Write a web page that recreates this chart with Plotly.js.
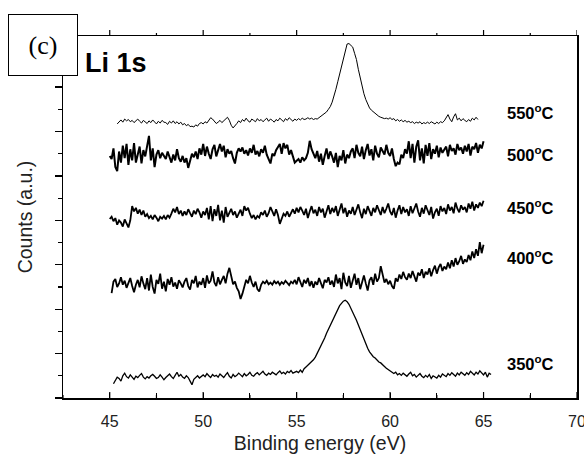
<!DOCTYPE html>
<html>
<head>
<meta charset="utf-8">
<script src="https://cdn.plot.ly/plotly-3.0.1.min.js"></script>
<style>html,body{margin:0;padding:0;background:#fff;}#chart{width:584px;height:454px;}</style>
</head>
<body>
<div id="chart"></div>
<script>
// Binding energy grid (eV), 45.0 ... 65.4
const energy = [
  45.0,45.1,45.2,45.3,45.4,45.5,45.6,45.7,45.8,45.9,
  46.0,46.1,46.2,46.3,46.4,46.5,46.6,46.7,46.8,46.9,
  47.0,47.1,47.2,47.3,47.4,47.5,47.6,47.7,47.8,47.9,
  48.0,48.1,48.2,48.3,48.4,48.5,48.6,48.7,48.8,48.9,
  49.0,49.1,49.2,49.3,49.4,49.5,49.6,49.7,49.8,49.9,
  50.0,50.1,50.2,50.3,50.4,50.5,50.6,50.7,50.8,50.9,
  51.0,51.1,51.2,51.3,51.4,51.5,51.6,51.7,51.8,51.9,
  52.0,52.1,52.2,52.3,52.4,52.5,52.6,52.7,52.8,52.9,
  53.0,53.1,53.2,53.3,53.4,53.5,53.6,53.7,53.8,53.9,
  54.0,54.1,54.2,54.3,54.4,54.5,54.6,54.7,54.8,54.9,
  55.0,55.1,55.2,55.3,55.4,55.5,55.6,55.7,55.8,55.9,
  56.0,56.1,56.2,56.3,56.4,56.5,56.6,56.7,56.8,56.9,
  57.0,57.1,57.2,57.3,57.4,57.5,57.6,57.7,57.8,57.9,
  58.0,58.1,58.2,58.3,58.4,58.5,58.6,58.7,58.8,58.9,
  59.0,59.1,59.2,59.3,59.4,59.5,59.6,59.7,59.8,59.9,
  60.0,60.1,60.2,60.3,60.4,60.5,60.6,60.7,60.8,60.9,
  61.0,61.1,61.2,61.3,61.4,61.5,61.6,61.7,61.8,61.9,
  62.0,62.1,62.2,62.3,62.4,62.5,62.6,62.7,62.8,62.9,
  63.0,63.1,63.2,63.3,63.4,63.5,63.6,63.7,63.8,63.9,
  64.0,64.1,64.2,64.3,64.4,64.5,64.6,64.7,64.8,64.9,
  65.0,65.1,65.2,65.3,65.4];

const counts350 = [
  null,null,0.32,0.40,0.47,0.44,0.38,0.50,0.56,0.48,
  0.45,0.52,0.47,0.42,0.49,0.46,0.51,0.55,0.47,0.43,
  0.48,0.45,0.50,0.53,0.49,0.44,0.46,0.52,0.47,0.41,
  0.46,0.50,0.54,0.48,0.44,0.51,0.58,0.49,0.53,0.47,
  0.44,0.50,0.46,0.38,0.30,0.42,0.47,0.50,0.45,0.49,
  0.52,0.48,0.55,0.50,0.46,0.53,0.49,0.51,0.47,0.54,
  0.50,0.46,0.52,0.57,0.49,0.45,0.53,0.48,0.51,0.56,
  0.52,0.48,0.55,0.50,0.53,0.58,0.51,0.49,0.54,0.57,
  0.52,0.55,0.60,0.54,0.51,0.56,0.53,0.58,0.55,0.52,
  0.57,0.61,0.55,0.58,0.54,0.60,0.57,0.62,0.56,0.59,
  0.60,0.57,0.63,0.58,0.66,0.70,0.74,0.78,0.81,0.86,
  0.92,1.00,1.08,1.16,1.24,1.35,1.46,1.55,1.64,1.74,
  1.84,1.93,2.02,2.08,2.13,2.18,2.20,2.17,2.11,2.03,
  1.93,1.84,1.75,1.64,1.53,1.41,1.30,1.21,1.12,1.04,
  0.97,0.93,0.90,0.85,0.81,0.79,0.76,0.71,0.67,0.64,
  0.61,0.57,0.55,0.58,0.52,0.55,0.51,0.56,0.53,0.49,
  0.54,0.58,0.50,0.53,0.47,0.52,0.55,0.49,0.46,0.51,
  0.47,0.53,0.44,0.50,0.48,0.45,0.51,0.47,0.54,0.50,
  0.48,0.55,0.51,0.57,0.53,0.49,0.56,0.52,0.58,0.54,
  0.51,0.57,0.53,0.60,0.55,0.52,0.58,0.54,0.61,0.56,
  0.52,0.58,0.47,0.56,0.53];

const counts400 = [
  null,2.36,2.62,2.68,2.50,2.58,2.72,2.55,2.64,2.48,
  2.60,2.70,2.52,2.38,2.55,2.66,2.49,2.74,2.58,2.45,
  2.70,2.42,2.78,2.50,2.35,2.66,2.57,2.80,2.46,2.62,
  2.40,2.68,2.55,2.72,2.51,2.60,2.46,2.65,2.58,2.49,
  2.62,2.70,2.52,2.44,2.66,2.58,2.75,2.49,2.62,2.55,
  2.70,2.48,2.76,2.58,2.64,2.85,2.60,2.52,2.72,2.56,
  2.66,2.75,2.58,2.80,2.93,2.70,2.56,2.62,2.48,2.40,
  2.23,2.35,2.52,2.66,2.58,2.75,2.60,2.50,2.62,2.45,
  2.40,2.55,2.62,2.58,2.64,2.56,2.60,2.55,2.63,2.58,
  2.62,2.55,2.61,2.57,2.64,2.59,2.54,2.62,2.58,2.66,
  2.56,2.72,2.60,2.50,2.66,2.58,2.70,2.52,2.63,2.48,
  2.62,2.55,2.70,2.58,2.47,2.66,2.60,2.72,2.55,2.64,
  2.50,2.78,2.58,2.70,2.45,2.82,2.60,2.52,2.75,2.48,
  2.66,2.80,2.55,2.70,2.45,2.62,2.76,2.58,2.42,2.65,
  2.72,2.55,2.80,2.62,2.70,2.97,2.74,2.60,2.68,2.56,
  2.64,2.52,2.46,2.70,2.62,2.78,2.68,2.84,2.72,2.66,
  2.80,2.70,2.86,2.74,2.62,2.82,2.76,2.90,2.70,2.84,
  2.78,2.92,2.74,2.88,2.98,2.80,2.94,3.02,2.86,2.96,
  2.90,3.05,2.92,3.10,2.96,3.15,3.00,3.08,3.20,3.02,
  3.12,3.06,3.22,3.10,3.30,3.15,3.35,3.20,3.51,3.26,
  3.45,null,null,null,null];

const counts450 = [
  4.03,4.08,3.98,4.05,3.90,4.00,3.95,3.86,4.02,3.92,
  3.84,4.00,4.32,4.20,4.28,4.15,4.24,4.12,4.22,4.08,
  4.14,4.05,4.10,4.02,4.12,4.06,3.98,4.08,4.04,4.10,
  4.02,4.12,4.06,4.15,4.26,4.18,4.30,4.14,4.22,4.10,
  4.20,4.12,4.25,4.16,4.08,4.22,4.14,4.26,4.18,4.06,
  4.20,4.12,4.28,4.02,4.32,3.98,4.25,4.10,4.35,4.00,
  4.22,3.95,4.30,4.08,4.18,4.26,4.12,4.20,4.06,4.16,
  4.24,4.10,4.32,4.22,4.28,4.15,4.05,4.12,4.02,4.10,
  4.06,4.18,4.12,4.22,4.08,4.16,4.30,4.20,4.10,4.25,
  4.12,3.92,4.05,4.15,4.10,4.20,4.08,4.18,4.25,4.15,
  4.28,4.18,4.30,4.22,4.12,4.26,4.05,4.20,4.32,4.16,
  4.24,4.10,4.30,4.18,4.26,4.06,4.22,4.34,4.14,4.28,
  4.18,4.32,4.10,4.25,4.38,4.16,4.28,4.08,4.22,4.15,
  4.30,4.12,4.24,4.36,4.18,4.05,4.26,4.14,4.32,4.20,
  4.10,4.28,4.18,4.34,4.22,4.12,4.30,4.16,4.26,4.38,
  4.20,4.12,4.28,4.06,4.22,4.34,4.14,4.30,4.18,4.25,
  4.10,4.32,4.16,4.26,4.38,4.20,4.08,4.28,4.15,4.34,
  4.22,4.12,4.30,4.04,4.18,4.26,4.10,4.32,4.20,4.28,
  4.14,4.36,4.22,4.30,4.16,4.40,4.26,4.18,4.34,4.24,
  4.30,4.18,4.38,4.26,4.42,4.22,4.36,4.28,4.40,4.32,
  4.44,null,null,null,null];

const counts500 = [
  5.45,5.38,5.62,5.20,5.11,5.55,5.30,5.68,5.40,5.72,
  5.25,5.60,5.35,5.74,5.30,5.52,5.66,5.28,5.58,5.44,
  5.70,5.90,5.35,5.62,5.20,5.48,5.58,5.40,5.52,5.46,
  5.38,5.55,5.42,5.30,5.48,5.35,5.60,5.40,5.32,5.45,
  5.30,5.40,5.18,5.36,5.50,5.42,5.55,5.38,5.62,5.48,
  5.72,5.45,5.66,5.50,5.38,5.60,5.70,5.44,5.58,5.72,
  5.55,5.68,5.42,5.60,5.50,5.56,5.40,5.28,5.52,5.62,
  5.55,5.64,5.50,5.58,5.46,5.62,5.52,5.70,5.48,5.56,
  5.44,5.60,5.52,5.68,5.48,5.36,5.28,5.50,5.45,5.58,
  5.66,5.72,5.50,5.74,5.62,5.70,5.48,5.58,5.44,5.30,
  5.34,5.38,5.30,5.42,5.35,5.40,5.52,5.79,5.60,5.48,
  5.40,5.56,5.32,5.50,5.25,5.45,5.62,5.38,5.55,5.44,
  5.30,5.52,5.20,5.45,5.35,5.58,5.28,5.48,5.40,5.55,
  5.62,5.40,5.70,5.52,5.44,5.66,5.38,5.58,5.72,5.46,
  5.60,5.35,5.68,5.50,5.42,5.64,5.56,5.48,5.70,5.52,
  5.45,5.62,5.38,5.22,5.30,5.26,5.48,5.40,5.60,5.50,
  5.78,5.40,5.72,5.30,5.66,5.80,5.35,5.62,5.28,5.70,
  5.45,5.74,5.38,5.60,5.50,5.68,5.42,5.64,5.52,5.58,
  5.66,5.44,5.70,5.56,5.62,5.48,5.72,5.58,5.64,5.50,
  5.68,5.55,5.72,5.46,5.66,5.60,5.74,5.52,5.70,5.62,
  5.78,null,null,null,null];

const counts550 = [
  null,null,null,null,6.17,6.22,6.26,6.21,6.28,6.24,
  6.27,6.22,6.25,6.20,6.24,6.28,6.23,6.19,6.25,6.21,
  6.18,6.24,6.20,6.26,6.22,6.17,6.23,6.19,6.25,6.21,
  6.20,6.16,6.23,6.19,6.24,6.18,6.22,6.17,6.21,6.15,
  6.18,6.13,6.16,6.11,6.12,6.10,6.15,6.12,6.18,6.20,
  6.17,6.22,6.19,6.26,6.31,6.28,6.22,6.18,6.21,6.25,
  6.20,6.24,6.29,6.32,6.25,6.14,6.08,6.12,6.18,6.24,
  6.20,6.27,6.23,6.30,6.24,6.21,6.28,6.25,6.22,6.29,
  6.24,6.27,6.22,6.26,6.30,6.23,6.28,6.25,6.21,6.27,
  6.24,6.30,6.26,6.22,6.29,6.25,6.31,6.27,6.23,6.28,
  6.25,6.29,6.26,6.30,6.27,6.28,6.31,6.28,6.30,6.27,
  6.29,6.28,6.31,6.33,6.36,6.40,6.44,6.50,6.56,6.66,
  6.78,6.95,7.12,7.30,7.50,7.68,7.85,7.97,7.98,7.94,
  7.90,7.76,7.62,7.40,7.20,7.02,6.85,6.72,6.60,6.53,
  6.48,6.44,6.40,6.37,6.34,6.32,6.31,6.29,6.30,6.28,
  6.31,6.27,6.29,6.24,6.27,6.23,6.26,6.22,6.25,6.21,
  6.23,6.20,6.22,6.18,6.21,6.19,6.22,6.17,6.20,6.18,
  6.21,6.18,6.22,6.19,6.17,6.21,6.18,6.22,6.20,6.24,
  6.30,6.38,6.28,6.22,6.33,6.40,6.26,6.30,6.24,6.29,
  6.25,6.22,6.27,6.23,6.30,6.26,6.32,6.27,null,null,
  null,null,null,null,null];

const seriesLabels = ['550<sup>o</sup>C','500<sup>o</sup>C','450<sup>o</sup>C','400<sup>o</sup>C','350<sup>o</sup>C'];
// x tick positions (major ticks labelled, half-steps unlabelled)
const xTickVals = [42.5,45,47.5,50,52.5,55,57.5,60,62.5,65,67.5,70];
const xTickText = ['','45','','50','','55','','60','','65','','70'];

const series = [
  {y: counts550, w: 1.0},
  {y: counts500, w: 2.0},
  {y: counts450, w: 1.8},
  {y: counts400, w: 1.8},
  {y: counts350, w: 1.3}
];

const traces = series.map(s => ({
  type: 'scatter', mode: 'lines', x: energy, y: s.y, connectgaps: false,
  line: {color: '#000', width: s.w}, hoverinfo: 'skip', showlegend: false
}));

const labelY = [112, 154, 207, 257, 363];
const plotTop = 36, plotBot = 398, plotL = 63, plotR = 577;
const plotH = plotBot - plotTop;
const pxX = px => (px - plotL) / (plotR - plotL);
const pxY = py => (plotBot - py) / plotH;
const fontSans = 'Arial, Liberation Sans, sans-serif';
const annotations = seriesLabels.map((t, i) => ({
  xref: 'paper', yref: 'paper', x: pxX(505), y: pxY(labelY[i]),
  xanchor: 'left', yanchor: 'middle', showarrow: false,
  text: '<b>' + t + '</b>', font: {family: fontSans, size: 16.5, color: '#000'}
}));
annotations.push({
  xref: 'paper', yref: 'paper', x: pxX(83), y: pxY(63),
  xanchor: 'left', yanchor: 'middle', showarrow: false,
  text: '<b>Li 1s</b>', font: {family: fontSans, size: 27, color: '#000'}
});
annotations.push({
  xref: 'paper', yref: 'paper', x: pxX(43), y: pxY(45),
  xanchor: 'center', yanchor: 'middle', showarrow: false,
  text: '(c)', font: {family: 'Times New Roman, Liberation Serif, serif', size: 26, color: '#000'},
  bgcolor: '#fff', bordercolor: '#000', borderwidth: 1, borderpad: 0, width: 68, height: 60
});

// tick marks on the bottom (pointing inward) and top (pointing outward) frame, placed on the x scale
const shapes = [];
xTickVals.forEach((v, i) => {
  const len = (xTickText[i] ? 6 : 3) / plotH;
  shapes.push({type: 'line', xref: 'x', yref: 'paper', x0: v, x1: v, y0: 0, y1: len, line: {color: '#000', width: 1.2}, layer: 'above'});
  shapes.push({type: 'line', xref: 'x', yref: 'paper', x0: v, x1: v, y0: 1, y1: 1 + len, line: {color: '#000', width: 1.2}, layer: 'above'});
});

const layout = {
  width: 584, height: 454,
  margin: {l: plotL, r: 584 - plotR, t: plotTop, b: 454 - plotBot},
  paper_bgcolor: '#fff', plot_bgcolor: '#fff',
  showlegend: false,
  xaxis: {
    range: [42.5, 70], tickmode: 'array', tickvals: xTickVals, ticktext: xTickText,
    ticks: 'inside', ticklen: 5, tickcolor: '#000',
    showline: true, linecolor: '#000', linewidth: 1.5, mirror: true, showgrid: false, zeroline: false,
    tickfont: {family: fontSans, size: 16, color: '#222'}, ticklabelstandoff: 8, ticklabeloverflow: 'allow',
    title: {text: 'Binding energy (eV)', font: {family: fontSans, size: 19.5, color: '#222'}, standoff: 8}
  },
  yaxis: {
    range: [0, 8.15], dtick: 1, tick0: 0, ticks: 'outside', ticklen: 7, tickwidth: 1.2, tickcolor: '#000',
    minor: {dtick: 0.5, ticks: 'outside', ticklen: 4, tickcolor: '#000', showgrid: false},
    showticklabels: false, showline: true, linecolor: '#000', linewidth: 1.5, mirror: true, showgrid: false, zeroline: false,
    title: {text: 'Counts (a.u.)', font: {family: fontSans, size: 19.5, color: '#222'}, standoff: 16}
  },
  shapes: shapes,
  annotations: annotations
};

Plotly.newPlot('chart', traces, layout, {staticPlot: true, displayModeBar: false});
</script>
</body>
</html>
